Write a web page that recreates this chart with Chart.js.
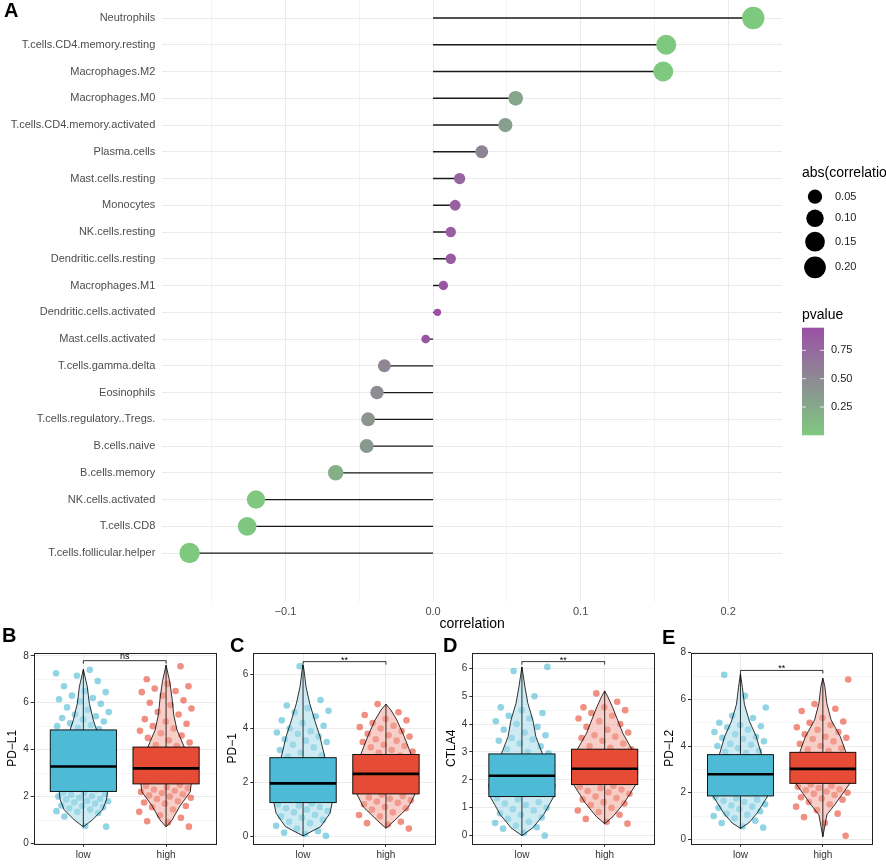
<!DOCTYPE html>
<html>
<head>
<meta charset="utf-8">
<script src="https://cdn.jsdelivr.net/npm/chart.js@4/dist/chart.umd.min.js"></script>
<style>
  body { margin:0; background:#fff; }
  #wrap { position:relative; width:886px; height:865px; overflow:hidden; background:#fff; }
  canvas { position:absolute; }
</style>
</head>
<body>
<div id="wrap">
  <canvas id="topChart" width="886" height="640" style="left:0;top:0"></canvas>
  <canvas id="pdl1" width="222" height="240" style="left:0;top:625px"></canvas>
  <canvas id="pd1" width="220" height="240" style="left:222px;top:625px"></canvas>
  <canvas id="ctla4" width="220" height="240" style="left:442px;top:625px"></canvas>
  <canvas id="pdl2" width="224" height="240" style="left:662px;top:625px"></canvas>
</div>
<script>
// ---- panel A data ----
const cellTypes = ['Neutrophils','T.cells.CD4.memory.resting','Macrophages.M2','Macrophages.M0',
  'T.cells.CD4.memory.activated','Plasma.cells','Mast.cells.resting','Monocytes','NK.cells.resting',
  'Dendritic.cells.resting','Macrophages.M1','Dendritic.cells.activated','Mast.cells.activated',
  'T.cells.gamma.delta','Eosinophils','T.cells.regulatory..Tregs.','B.cells.naive','B.cells.memory',
  'NK.cells.activated','T.cells.CD8','T.cells.follicular.helper'];
const correlation = [0.217,0.158,0.156,0.056,0.049,0.033,0.018,0.015,0.012,0.012,0.007,0.003,-0.005,
  -0.033,-0.038,-0.044,-0.045,-0.066,-0.120,-0.126,-0.165];
const pvalue = [0.001,0.006,0.007,0.28,0.33,0.55,0.78,0.82,0.85,0.86,0.90,0.95,0.93,
  0.53,0.48,0.40,0.38,0.20,0.02,0.015,0.0005];
const xTickValues = [-0.15,-0.1,-0.05,0,0.05,0.1,0.15,0.2];
const sizeLegend = [0.05,0.10,0.15,0.20];
const pLegend = [0.75,0.50,0.25];

// ---- panels B-E data ----
const groups = ['low','high'];
const pdl1Low = [0.72,0.75,1.15,1.3,1.35,1.38,1.45,1.5,1.55,1.6,1.62,1.7,1.75,1.8,1.82,1.88,1.9,1.95,2.0,2.02,2.08,2.1,2.15,2.18,
  2.3,2.5,2.7,2.9,3.1,3.3,3.5,3.7,3.9,4.1,4.3,4.5,4.7,4.88,4.92,5.0,5.05,5.12,5.2,5.28,5.35,5.42,5.5,5.6,5.7,5.8,5.95,
  6.05,6.15,6.2,6.3,6.45,6.5,6.7,6.92,7.15,7.25,7.4];
const pdl1High = [0.72,0.9,0.95,1.1,1.2,1.35,1.45,1.55,1.6,1.7,1.75,1.8,1.9,1.95,2.0,2.05,2.1,2.15,2.2,2.25,2.3,2.35,2.4,2.45,2.5,
  2.7,2.9,3.1,3.3,3.5,3.7,3.9,4.15,4.2,4.3,4.4,4.5,4.6,4.7,4.8,4.9,5.0,5.1,5.2,5.3,5.5,5.6,5.75,5.9,6.0,6.1,6.3,6.45,6.5,
  6.6,6.7,6.8,7.0,7.55];
const pd1Low = [0.03,0.1,0.15,0.2,0.3,0.4,0.5,0.55,0.62,0.7,0.75,0.8,0.9,0.95,1.0,1.05,1.1,1.15,1.2,1.22,1.4,1.6,1.8,2.0,2.2,
  2.4,2.6,2.8,2.95,3.0,3.1,3.2,3.3,3.4,3.5,3.55,3.6,3.7,3.8,3.85,3.9,4.0,4.1,4.2,4.3,4.45,4.6,4.65,4.75,4.85,5.05,6.3];
const pd1High = [0.3,0.45,0.5,0.55,0.75,0.8,0.9,1.0,1.05,1.1,1.2,1.25,1.3,1.35,1.4,1.45,1.5,1.55,1.8,2.0,2.2,2.4,2.6,2.8,3.0,
  3.1,3.15,3.2,3.3,3.35,3.4,3.5,3.55,3.6,3.7,3.75,3.8,3.9,4.0,4.05,4.1,4.2,4.3,4.35,4.5,4.6,4.9];
const ctla4Low = [0.0,0.1,0.25,0.3,0.35,0.45,0.5,0.6,0.65,0.75,0.8,0.9,0.95,1.0,1.1,1.15,1.2,1.3,1.35,1.5,1.7,1.9,2.1,2.3,2.5,
  2.7,2.95,3.0,3.1,3.2,3.3,3.4,3.45,3.5,3.6,3.7,3.8,3.9,4.0,4.1,4.2,4.3,4.4,4.5,4.6,5.0,5.9,6.05];
const ctla4High = [0.43,0.5,0.6,0.75,0.85,0.9,1.0,1.1,1.15,1.2,1.3,1.35,1.4,1.5,1.55,1.6,1.65,1.7,1.75,1.78,2.0,2.2,2.4,2.6,2.8,
  3.0,3.1,3.15,3.2,3.3,3.4,3.5,3.55,3.6,3.7,3.8,3.9,4.0,4.1,4.2,4.3,4.4,4.5,4.6,4.6,4.8,5.1];
const pdl2Low = [0.5,0.55,0.7,0.8,0.9,1.0,1.05,1.1,1.2,1.3,1.35,1.4,1.45,1.5,1.6,1.65,1.7,1.75,1.8,2.0,2.2,2.4,2.6,2.8,3.0,
  3.2,3.4,3.7,3.75,3.8,3.9,4.0,4.05,4.1,4.2,4.3,4.35,4.4,4.5,4.6,4.7,4.8,4.85,4.9,5.0,5.2,5.3,5.65,6.15,7.05];
const pdl2High = [0.15,0.7,0.95,1.1,1.25,1.4,1.5,1.6,1.7,1.75,1.8,1.9,1.95,2.0,2.05,2.1,2.15,2.2,2.25,2.3,2.35,2.6,2.8,3.0,
  3.2,3.4,3.6,3.8,3.85,3.9,4.0,4.1,4.2,4.3,4.35,4.4,4.5,4.6,4.7,4.8,4.9,5.0,5.05,5.2,5.5,5.6,5.8,6.85];

// box stats: [q1, median, q3, min, max]  (low, high)
const pdl1Stats = [[2.22,3.28,4.84,0.71,7.42],[2.54,3.20,4.11,0.71,7.60]];
const pd1Stats = [[1.26,1.97,2.92,0.03,6.35],[1.58,2.32,3.04,0.31,4.90]];
const ctla4Stats = [[1.40,2.15,2.93,0.00,6.05],[1.83,2.40,3.10,0.43,5.19]];
const pdl2Stats = [[1.86,2.79,3.63,0.47,7.10],[2.40,3.02,3.73,0.11,6.91]];

// violin outlines: values and relative density
const pdl1LowVy = [0.71,1.0,1.44,1.87,2.22,2.6,3.3,4.0,4.84,5.27,5.98,6.68,7.42];
const pdl1LowVw = [0,0.27,0.58,0.70,0.73,0.73,0.64,0.52,0.40,0.30,0.18,0.12,0];
const pdl1HighVy = [0.71,1.0,1.6,2.2,2.54,3.0,3.5,4.11,4.84,5.5,6.2,6.9,7.6];
const pdl1HighVw = [0,0.18,0.42,0.73,0.76,0.79,0.70,0.55,0.33,0.23,0.18,0.11,0];
const pd1LowVy = [0.03,0.37,0.86,1.26,1.6,2.0,2.5,2.92,3.7,4.31,4.93,5.54,6.15,6.35];
const pd1LowVw = [0,0.53,0.81,0.88,0.91,0.88,0.79,0.66,0.51,0.35,0.20,0.09,0.03,0];
const pd1HighVy = [0.31,0.61,1.1,1.58,2.0,2.5,3.04,3.7,4.31,4.68,4.9];
const pd1HighVw = [0,0.27,0.68,0.88,0.94,0.94,0.76,0.55,0.33,0.15,0];
const ctla4LowVy = [0,0.28,0.76,1.4,1.8,2.3,2.93,3.55,4.15,4.74,5.34,5.82,6.05];
const ctla4LowVw = [0,0.33,0.66,0.96,1.0,0.9,0.62,0.42,0.33,0.18,0.09,0.03,0];
const ctla4HighVy = [0.43,0.68,1.16,1.83,2.4,3.1,3.67,4.15,4.63,4.99,5.19];
const ctla4HighVw = [0,0.25,0.58,0.94,1.0,0.82,0.55,0.39,0.23,0.09,0];
const pdl2LowVy = [0.47,0.7,1.13,1.86,2.3,2.8,3.63,4.4,5.07,5.79,6.5,7.1];
const pdl2LowVw = [0,0.25,0.51,0.83,0.91,0.91,0.64,0.48,0.27,0.12,0.06,0];
const pdl2HighVy = [0.11,1.05,1.48,2.4,3.0,3.73,4.4,5.12,5.83,6.55,6.91];
const pdl2HighVw = [0,0.12,0.36,0.82,0.94,0.70,0.53,0.25,0.12,0.06,0];

// significance brackets
const bracketY = [7.79, 6.47, 6.24, 7.24];
const bracketLabel = ['ns','**','**','**'];

const FONT = '"Liberation Sans", Arial, Helvetica, sans-serif';
Chart.defaults.font.family = FONT;
Chart.defaults.animation = false;

// ---------- panel A ----------
const absCorr = correlation.map(Math.abs);
const vMin = Math.min(...absCorr), vMax = Math.max(...absCorr);
function dotRadius(v) {
  return (7.3 + 15 * Math.sqrt(Math.max(0, v - vMin) / (vMax - vMin))) / 2;
}
const pMin = Math.min(...pvalue), pMax = Math.max(...pvalue);
const lowCol = [127, 201, 127], highCol = [155, 80, 166];
function pColor(p) {
  const t = (p - pMin) / (pMax - pMin);
  const c = lowCol.map((l, i) => Math.round(l + (highCol[i] - l) * t));
  return `rgb(${c[0]},${c[1]},${c[2]})`;
}
const fmt = v => (Math.abs(v) < 1e-9 ? '0.0' : v.toFixed(1).replace('-', '\u2212'));
const isMajor = v => Math.abs(Math.round(v * 10) - v * 10) < 1e-6;

const topLegend = {
  id: 'topLegend',
  afterDraw(chart) {
    const ctx = chart.ctx;
    ctx.save();
    ctx.fillStyle = '#000';
    ctx.font = `bold 20px ${FONT}`;
    ctx.textBaseline = 'alphabetic';
    ctx.fillText('A', 4, 17);
    // size legend
    ctx.font = `14px ${FONT}`;
    ctx.textBaseline = 'middle';
    ctx.fillText('abs(correlation)', 802, 173);
    const sy = [196.7, 218.3, 241.7, 267.3];
    sizeLegend.forEach((v, i) => {
      ctx.beginPath();
      ctx.fillStyle = '#000';
      ctx.arc(815, sy[i], dotRadius(v), 0, Math.PI * 2);
      ctx.fill();
      ctx.fillStyle = '#222';
      ctx.font = `11px ${FONT}`;
      ctx.fillText(v.toFixed(2), 835, sy[i]);
    });
    // colour bar
    ctx.fillStyle = '#000';
    ctx.font = `14px ${FONT}`;
    ctx.fillText('pvalue', 802, 315);
    const top = 327.7, bot = 435.3, bx = 802, bw = 22;
    const g = ctx.createLinearGradient(0, top, 0, bot);
    for (let k = 0; k <= 10; k++) g.addColorStop(k / 10, pColor(pMax - (pMax - pMin) * k / 10));
    ctx.fillStyle = g;
    ctx.fillRect(bx, top, bw, bot - top);
    pLegend.forEach(v => {
      const y = top + (pMax - v) / (pMax - pMin) * (bot - top);
      ctx.strokeStyle = 'rgba(255,255,255,0.8)';
      ctx.lineWidth = 1;
      ctx.beginPath();
      ctx.moveTo(bx, y); ctx.lineTo(bx + 4, y);
      ctx.moveTo(bx + bw - 4, y); ctx.lineTo(bx + bw, y);
      ctx.stroke();
      ctx.fillStyle = '#222';
      ctx.font = `11px ${FONT}`;
      ctx.fillText(v.toFixed(2), 831, y);
    });
    ctx.restore();
  }
};

new Chart(document.getElementById('topChart'), {
  type: 'scatter',
  data: {
    datasets: [
      {
        data: cellTypes.map((c, i) => ({ x: correlation[i], y: i })),
        pointRadius: ctx => dotRadius(absCorr[ctx.dataIndex]),
        pointHoverRadius: ctx => dotRadius(absCorr[ctx.dataIndex]),
        backgroundColor: ctx => pColor(pvalue[ctx.dataIndex]),
        borderWidth: 0,
        order: 0
      },
      ...cellTypes.map((c, i) => ({
        data: [{ x: 0, y: i }, { x: correlation[i], y: i }],
        showLine: true,
        borderColor: '#1a1a1a',
        borderWidth: 1.3,
        pointRadius: 0,
        order: 1
      }))
    ]
  },
  options: {
    responsive: false,
    animation: false,
    layout: { autoPadding: false, padding: { left: 0, top: 0, right: 104, bottom: 0 } },
    plugins: { legend: { display: false }, tooltip: { enabled: false } },
    scales: {
      x: {
        type: 'linear', min: -0.1835, max: 0.2365,
        afterBuildTicks: s => { s.ticks = xTickValues.map(v => ({ value: v })); },
        afterFit: s => { s.height = 38; s.paddingLeft = 0; s.paddingRight = 0; },
        ticks: { callback: v => (isMajor(v) ? fmt(v) : ''), color: '#4D4D4D', font: { size: 11 }, padding: 3, maxRotation: 0, autoSkip: false },
        grid: { color: ctx => (isMajor(ctx.tick.value) ? '#EBEBEB' : '#F3F3F3'), lineWidth: 1, drawTicks: false },
        border: { display: false },
        title: { display: true, text: 'correlation', color: '#000', font: { size: 14 }, padding: { top: 0, bottom: 7 } }
      },
      y: {
        type: 'linear', reverse: true, min: -0.673, max: 21.83,
        afterBuildTicks: s => { s.ticks = cellTypes.map((c, i) => ({ value: i })); },
        afterFit: s => { s.width = 162.3; s.paddingTop = 0; s.paddingBottom = 0; },
        ticks: { callback: v => cellTypes[v] || '', color: '#4D4D4D', font: { size: 11 }, padding: 7, autoSkip: false },
        grid: { color: '#EBEBEB', lineWidth: 1, drawTicks: false },
        border: { display: false }
      }
    }
  },
  plugins: [topLegend]
});

// ---------- panels B-E ----------
const fillCol = ['#4DBBD5', '#E64B35'];
const pointCol = ['rgba(77,187,213,0.62)', 'rgba(230,75,53,0.62)'];
const violinCol = ['rgba(165,218,234,0.55)', 'rgba(243,165,154,0.55)'];
const jitter = i => (((i + 1) * 0.6180339887 + 0.3) % 1 - 0.5) * 0.66;

function boxViolin(p) {
  return {
    id: 'boxViolin',
    afterDatasetsDraw(chart) {
      const { ctx, chartArea: a, scales: { x, y } } = chart;
      const unit = x.getPixelForValue(1) - x.getPixelForValue(0);
      ctx.save();
      ctx.beginPath();
      ctx.rect(a.left, a.top, a.right - a.left, a.bottom - a.top);
      ctx.clip();
      [0, 1].forEach(k => {
        const cx = x.getPixelForValue(k + 1);
        const vy = p.vy[k], vw = p.vw[k], st = p.stats[k];
        // violin
        ctx.beginPath();
        vy.forEach((v, i) => {
          const px = cx + vw[i] * 0.4 * unit, py = y.getPixelForValue(v);
          if (i) ctx.lineTo(px, py); else ctx.moveTo(px, py);
        });
        for (let i = vy.length - 1; i >= 0; i--) ctx.lineTo(cx - vw[i] * 0.4 * unit, y.getPixelForValue(vy[i]));
        ctx.closePath();
        ctx.fillStyle = violinCol[k];
        ctx.fill();
        ctx.strokeStyle = '#000';
        ctx.lineWidth = 0.8;
        ctx.stroke();
        // range line
        ctx.beginPath();
        ctx.moveTo(cx, y.getPixelForValue(st[3]));
        ctx.lineTo(cx, y.getPixelForValue(st[4]));
        ctx.stroke();
        // box
        const bl = cx - 0.4 * unit, br = cx + 0.4 * unit;
        const yq1 = y.getPixelForValue(st[0]), yq3 = y.getPixelForValue(st[2]);
        ctx.fillStyle = fillCol[k];
        ctx.fillRect(bl, yq3, br - bl, yq1 - yq3);
        ctx.lineWidth = 0.9;
        ctx.strokeRect(bl, yq3, br - bl, yq1 - yq3);
        ctx.beginPath();
        ctx.lineWidth = 2.6;
        ctx.moveTo(bl, y.getPixelForValue(st[1]));
        ctx.lineTo(br, y.getPixelForValue(st[1]));
        ctx.stroke();
      });
      ctx.restore();
    },
    afterDraw(chart) {
      const { ctx, chartArea: a, scales: { x, y } } = chart;
      ctx.save();
      // bracket
      const by = y.getPixelForValue(p.bracket);
      const x1 = x.getPixelForValue(1), x2 = x.getPixelForValue(2);
      ctx.strokeStyle = '#000';
      ctx.lineWidth = 0.8;
      ctx.beginPath();
      ctx.moveTo(x1, by + 3); ctx.lineTo(x1, by); ctx.lineTo(x2, by); ctx.lineTo(x2, by + 3);
      ctx.stroke();
      ctx.fillStyle = '#000';
      ctx.font = `9px ${FONT}`;
      ctx.textAlign = 'center';
      ctx.textBaseline = 'bottom';
      ctx.fillText(p.label, (x1 + x2) / 2, by + (p.label === '**' ? 3 : 0));
      // frame
      ctx.lineWidth = 1;
      ctx.strokeStyle = '#222';
      ctx.strokeRect(Math.round(a.left) + 0.5, Math.round(a.top) + 0.5, Math.round(a.right - a.left), Math.round(a.bottom - a.top));
      // y title
      ctx.save();
      ctx.translate(a.left - 21, (a.top + a.bottom) / 2);
      ctx.rotate(-Math.PI / 2);
      ctx.font = `12px ${FONT}`;
      ctx.textBaseline = 'middle';
      ctx.fillText(p.title, 0, 0);
      ctx.restore();
      // panel letter
      ctx.font = `bold 20px ${FONT}`;
      ctx.textAlign = 'left';
      ctx.textBaseline = 'alphabetic';
      ctx.fillText(p.letter, p.letterX, p.letterY);
      ctx.restore();
    }
  };
}

function makePanel(id, p) {
  const minorStep = p.step / 2;
  const yTicks = [];
  for (let v = 0; v <= p.yMax + 1e-9; v += minorStep) yTicks.push(+v.toFixed(3));
  const major = v => Math.abs(v / p.step - Math.round(v / p.step)) < 1e-6;
  new Chart(document.getElementById(id), {
    type: 'scatter',
    data: {
      datasets: [
        { data: p.values[0].map((v, i) => ({ x: 1 + jitter(i), y: v })), backgroundColor: pointCol[0], pointRadius: 3.3, borderWidth: 0 },
        { data: p.values[1].map((v, i) => ({ x: 2 + jitter(i), y: v })), backgroundColor: pointCol[1], pointRadius: 3.3, borderWidth: 0 }
      ]
    },
    options: {
      responsive: false,
      animation: false,
      layout: { autoPadding: false, padding: { left: 0, top: 27.7, right: p.padRight, bottom: 0 } },
      plugins: { legend: { display: false }, tooltip: { enabled: false } },
      scales: {
        x: {
          type: 'linear', min: 0.4, max: 2.6,
          afterBuildTicks: s => { s.ticks = [{ value: 1 }, { value: 2 }]; },
          afterFit: s => { s.height = 21; s.paddingLeft = 0; s.paddingRight = 0; },
          ticks: { callback: v => groups[v - 1], color: '#333', font: { size: 10 }, padding: 2, maxRotation: 0 },
          grid: { color: '#EBEBEB', tickColor: '#333', tickLength: 3 },
          border: { display: false }
        },
        y: {
          type: 'linear', min: p.yMin, max: p.yMax,
          afterBuildTicks: s => { s.ticks = yTicks.map(v => ({ value: v })); },
          afterFit: s => { s.width = p.left; s.paddingTop = 0; s.paddingBottom = 0; },
          ticks: { callback: v => (major(v) ? String(Math.round(v)) : ''), color: '#333', font: { size: 10 }, padding: 2, autoSkip: false },
          grid: {
            color: ctx => (major(ctx.tick.value) ? '#EBEBEB' : '#F5F5F5'),
            tickColor: ctx => (major(ctx.tick.value) ? '#333' : 'rgba(0,0,0,0)'),
            tickLength: 3
          },
          border: { display: false }
        }
      }
    },
    plugins: [boxViolin(p)]
  });
}

makePanel('pdl1', { values: [pdl1Low, pdl1High], stats: pdl1Stats, vy: [pdl1LowVy, pdl1HighVy], vw: [pdl1LowVw, pdl1HighVw],
  bracket: bracketY[0], label: bracketLabel[0], title: 'PD\u2212L1', letter: 'B', letterX: 2, letterY: 17,
  yMin: -0.02, yMax: 8.13, step: 2, left: 33.7, padRight: 6.3 });
makePanel('pd1', { values: [pd1Low, pd1High], stats: pd1Stats, vy: [pd1LowVy, pd1HighVy], vw: [pd1LowVw, pd1HighVw],
  bracket: bracketY[1], label: bracketLabel[1], title: 'PD\u22121', letter: 'C', letterX: 8, letterY: 27,
  yMin: -0.27, yMax: 6.8, step: 2, left: 31.3, padRight: 6.3 });
makePanel('ctla4', { values: [ctla4Low, ctla4High], stats: ctla4Stats, vy: [ctla4LowVy, ctla4HighVy], vw: [ctla4LowVw, ctla4HighVw],
  bracket: bracketY[2], label: bracketLabel[2], title: 'CTLA4', letter: 'D', letterX: 1, letterY: 27,
  yMin: -0.30, yMax: 6.56, step: 1, left: 30.3, padRight: 7.7 });
makePanel('pdl2', { values: [pdl2Low, pdl2High], stats: pdl2Stats, vy: [pdl2LowVy, pdl2HighVy], vw: [pdl2LowVw, pdl2HighVw],
  bracket: bracketY[3], label: bracketLabel[3], title: 'PD\u2212L2', letter: 'E', letterX: 0, letterY: 19,
  yMin: -0.20, yMax: 8.0, step: 2, left: 29, padRight: 13.7 });
</script>
</body>
</html>
